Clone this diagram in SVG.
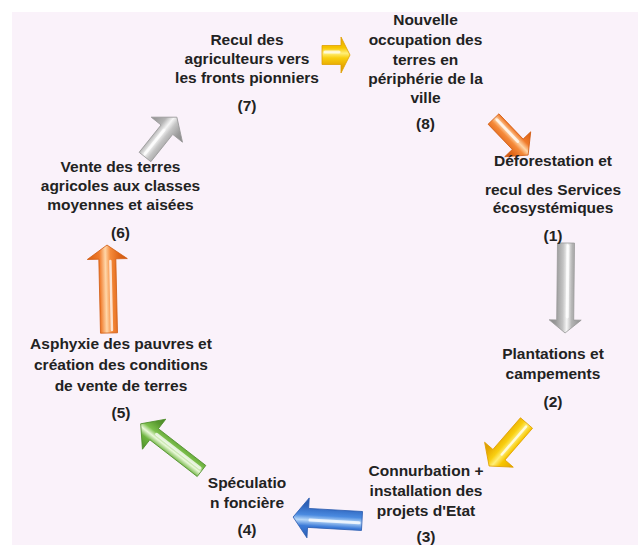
<svg xmlns="http://www.w3.org/2000/svg" width="638" height="545" viewBox="0 0 638 545">
<defs>
<style>
.t{font-family:"Liberation Sans",Arial,sans-serif;font-weight:bold;font-size:15.5px;fill:#222;text-anchor:middle}
.hl{stroke:#fff;stroke-opacity:0.75;stroke-linecap:round;fill:none}
.ar{stroke-width:0.8;stroke-linejoin:round}
</style>
<linearGradient id="gY" x1="0" y1="0" x2="0" y2="1">
<stop offset="0" stop-color="#E2A400"/><stop offset="0.3" stop-color="#F7C600"/><stop offset="0.45" stop-color="#FFEF7A"/><stop offset="0.58" stop-color="#F9CF10"/><stop offset="0.8" stop-color="#E6A800"/><stop offset="1" stop-color="#D89A00"/>
</linearGradient>
<linearGradient id="gO" x1="0" y1="0" x2="0" y2="1">
<stop offset="0" stop-color="#D85E10"/><stop offset="0.3" stop-color="#F07A2A"/><stop offset="0.45" stop-color="#FFD6A8"/><stop offset="0.58" stop-color="#F58A3A"/><stop offset="0.8" stop-color="#DE6518"/><stop offset="1" stop-color="#CC5810"/>
</linearGradient>
<linearGradient id="gG" x1="0" y1="0" x2="0" y2="1">
<stop offset="0" stop-color="#8E8E8E"/><stop offset="0.3" stop-color="#B4B4B4"/><stop offset="0.45" stop-color="#F6F6F6"/><stop offset="0.58" stop-color="#C4C4C4"/><stop offset="0.8" stop-color="#999"/><stop offset="1" stop-color="#888"/>
</linearGradient>
<linearGradient id="gB" x1="0" y1="0" x2="0" y2="1">
<stop offset="0" stop-color="#2A5CB0"/><stop offset="0.3" stop-color="#3C7BD8"/><stop offset="0.45" stop-color="#B8D8F8"/><stop offset="0.58" stop-color="#4A8AE0"/><stop offset="0.8" stop-color="#2E64BC"/><stop offset="1" stop-color="#2858A8"/>
</linearGradient>
<linearGradient id="gV" x1="0" y1="0" x2="0" y2="1">
<stop offset="0" stop-color="#4E8E2A"/><stop offset="0.3" stop-color="#6DB33F"/><stop offset="0.45" stop-color="#EAF8DA"/><stop offset="0.58" stop-color="#7CC04C"/><stop offset="0.8" stop-color="#58982E"/><stop offset="1" stop-color="#4A8826"/>
</linearGradient>
</defs>
<rect x="12" y="12" width="626" height="533" fill="#FAF2FA"/>

<g id="connectors">
<g id="arrow-7-8" transform="translate(322,55) rotate(0)">
<path class="ar" d="M0,-9.5 L19,-9.5 L19,-18 L28,0 L19,18 L19,9.5 L0,9.5 Z" fill="url(#gY)" stroke="#E0A000"/>
<line class="hl" x1="3" y1="-3" x2="17" y2="-3" stroke-width="3"/>
</g>
<g id="arrow-8-1" transform="translate(493.5,119) rotate(46.2)">
<path class="ar" d="M0,-7.5 L35,-7.5 L35,-18 L50,0 L35,18 L35,7.5 L0,7.5 Z" fill="url(#gO)" stroke="#D05A10"/>
<line class="hl" x1="3" y1="-2" x2="33" y2="-2" stroke-width="3"/>
</g>
<g id="arrow-1-2" transform="translate(566,243) rotate(90.6)">
<path class="ar" d="M0,-8.5 L77,-8.5 L77,-16 L90,0 L77,16 L77,8.5 L0,8.5 Z" fill="url(#gG)" stroke="#999"/>
<line class="hl" x1="3" y1="-2" x2="74" y2="-2" stroke-width="3"/>
</g>
<g id="arrow-2-3" transform="translate(526.5,423) rotate(131)">
<path class="ar" d="M0,-8 L42,-8 L42,-19 L57,0 L42,19 L42,8 L0,8 Z" fill="url(#gY)" stroke="#E0A000"/>
<line class="hl" x1="3" y1="-2" x2="40" y2="-2" stroke-width="2.5" stroke-opacity="0.4"/>
</g>
<g id="arrow-3-4" transform="translate(362,521) rotate(183.3)">
<path class="ar" d="M0,-9.5 L54,-9.5 L54,-20 L69,0 L54,20 L54,9.5 L0,9.5 Z" fill="url(#gB)" stroke="#2A5CB0"/>
<line class="hl" x1="3" y1="-2" x2="52" y2="-2" stroke-width="3"/>
</g>
<g id="arrow-4-5" transform="translate(201.5,471) rotate(217.8)">
<path class="ar" d="M0,-7 L60,-7 L60,-19 L77,0 L60,19 L60,7 L0,7 Z" fill="url(#gV)" stroke="#4E8E2A"/>
<line class="hl" x1="3" y1="1.5" x2="58" y2="1.5" stroke-width="3"/>
</g>
<g id="arrow-5-6" transform="translate(109,333) rotate(268.7)">
<path class="ar" d="M0,-8.5 L74,-8.5 L74,-20 L88,0 L74,20 L74,8.5 L0,8.5 Z" fill="url(#gO)" stroke="#D05A10"/>
<line class="hl" x1="3" y1="3" x2="72" y2="3" stroke-width="2.5"/>
</g>
<g id="arrow-6-7" transform="translate(145,157) rotate(-51.3)">
<path class="ar" d="M0,-7.5 L35,-7.5 L35,-20 L51,0 L35,20 L35,7.5 L0,7.5 Z" fill="url(#gG)" stroke="#999"/>
<line class="hl" x1="3" y1="-2" x2="33" y2="-2" stroke-width="3"/>
</g>
</g>

<g id="node-1">
<text class="t" x="553" y="166">Déforestation et</text>
<text class="t" x="553" y="195">recul des Services</text>
<text class="t" x="553" y="213">écosystémiques</text>
<text class="t" x="553" y="241">(1)</text>
</g>
<g id="node-2">
<text class="t" x="553" y="359">Plantations et</text>
<text class="t" x="553" y="379">campements</text>
<text class="t" x="553" y="407">(2)</text>
</g>
<g id="node-3">
<text class="t" x="426" y="476">Connurbation +</text>
<text class="t" x="426" y="496">installation des</text>
<text class="t" x="426" y="516">projets d'Etat</text>
<text class="t" x="426" y="542">(3)</text>
</g>
<g id="node-4">
<text class="t" x="247" y="488">Spéculatio</text>
<text class="t" x="247" y="508">n foncière</text>
<text class="t" x="247" y="535">(4)</text>
</g>
<g id="node-5">
<text class="t" x="121" y="349">Asphyxie des pauvres et</text>
<text class="t" x="121" y="370">création des conditions</text>
<text class="t" x="121" y="391">de vente de terres</text>
<text class="t" x="121" y="418">(5)</text>
</g>
<g id="node-6">
<text class="t" x="120.5" y="172">Vente des terres</text>
<text class="t" x="120.5" y="191">agricoles aux classes</text>
<text class="t" x="120.5" y="210">moyennes et aisées</text>
<text class="t" x="120.5" y="238">(6)</text>
</g>
<g id="node-7">
<text class="t" x="247" y="45">Recul des</text>
<text class="t" x="247" y="64">agriculteurs vers</text>
<text class="t" x="247" y="83">les fronts pionniers</text>
<text class="t" x="247" y="111">(7)</text>
</g>
<g id="node-8">
<text class="t" x="425.5" y="25">Nouvelle</text>
<text class="t" x="425.5" y="45">occupation des</text>
<text class="t" x="425.5" y="65">terres en</text>
<text class="t" x="425.5" y="84">périphérie de la</text>
<text class="t" x="425.5" y="103">ville</text>
<text class="t" x="425.5" y="129">(8)</text>
</g>
</svg>
